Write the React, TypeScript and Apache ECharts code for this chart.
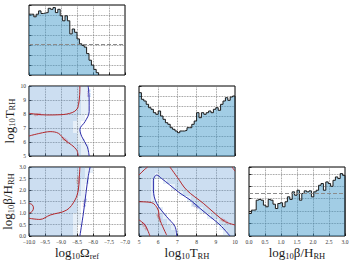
import React, { useEffect, useRef } from "react";
import * as echarts from "echarts";

const FONT = "'Liberation Serif', 'DejaVu Serif', serif";

// ranges
const OMEGA_RANGE = [-10, -7];
const TRH_RANGE = [5, 10];
const BETA_RANGE = [0, 3];

// 1D histograms (bin heights, arbitrary units)
const omegaBinWidth = 0.075;
const omegaHist = [6.08, 6.08, 5.82, 6.08, 6.41, 6.15, 6.21, 6.24, 6.67, 6.57, 6.74, 6.24, 6.57, 5.92, 5.42, 5.92, 5.42, 4.11, 4.6, 4.27, 3.61, 3.12, 2.96, 2.79, 2.14, 1.48, 0.99, 0.56, 0.23];
const omegaPrior = 3.1;

const trhBinWidth = 0.125;
const trhHist = [6.33, 5.67, 5.5, 5.17, 4.83, 4.67, 4.33, 4.17, 4.5, 4.0, 3.67, 3.33, 3.17, 2.83, 2.67, 2.5, 2.33, 2.5, 2.5, 2.57, 2.83, 2.83, 3.17, 3.5, 4.33, 3.83, 4.33, 4.17, 4.33, 4.5, 4.33, 4.67, 4.83, 4.57, 5.17, 5.5, 5.83, 5.57, 5.9, 6.0];

const betaBinWidth = 0.075;
const betaHist = [1.81, 2.08, 2.1, 2.88, 2.94, 2.88, 2.48, 2.35, 2.94, 2.88, 2.56, 2.21, 2.61, 2.67, 2.35, 2.75, 3.15, 2.94, 3.55, 3.28, 3.68, 2.88, 3.42, 3.63, 3.55, 3.63, 3.15, 3.55, 3.68, 4.08, 4.22, 3.68, 4.35, 4.22, 4.0, 4.48, 4.75, 4.62, 5.02, 4.88];
const betaPrior = 3.42;

// sample density maps (rows top -> bottom, 0 = empty, 1 = sparse, 2 = dense)
const densityTrhOmega = [
  "222222222222211000000000",
  "222222222222211000000000",
  "222222222222211000000000",
  "222222222222211000000000",
  "222222222222211000000000",
  "222222222222110000000000",
  "222222222221100000000000",
  "222222222221100000000000",
  "222222222222100000000000",
  "222222222222110000000000",
  "222222222222211000000000",
  "222222222222211000000000",
];
const densityBetaOmega = [
  "222222222222221100000000",
  "222222222222221000000000",
  "222222222222211000000000",
  "222222222222210000000000",
  "222222222222210000000000",
  "222222222222110000000000",
  "222222222222100000000000",
  "222222222222100000000000",
  "222222222221100000000000",
  "222222222221100000000000",
  "222222222221000000000000",
  "222222222221000000000000",
];
const densityBetaTrh = [
  "222222222222222222222222",
  "222212222222222222222222",
  "222100122222222222222222",
  "222100001222222222222222",
  "222100000012222222222222",
  "222100000000122222222222",
  "222210000000012222222222",
  "222221000000000122222222",
  "222222100000000001222222",
  "222222210000000000012222",
  "222222221000000000001222",
  "222222222100000000000122",
];

// contour lines
const trhOmegaRedA = [[-8.41, 10], [-8.42, 9.3], [-8.45, 8.7], [-8.5, 8.35], [-8.65, 8.1], [-9.0, 7.95], [-9.45, 7.93], [-9.75, 7.98], [-10, 8.05]];
const trhOmegaRedB = [[-10, 6.43], [-9.66, 6.62], [-9.34, 6.74], [-9.08, 6.62], [-8.88, 6.14], [-8.67, 5.79], [-8.51, 5.43], [-8.46, 5.0]];
const trhOmegaBlue = [[-8.15, 10], [-8.12, 9.0], [-8.12, 8.17], [-8.25, 7.45], [-8.41, 6.9], [-8.35, 6.38], [-8.18, 5.67], [-8.12, 5.0]];

const betaOmegaRedLoop = [[-10, 1.42], [-9.9, 1.36], [-9.86, 1.22], [-9.9, 1.07], [-10, 0.99]];
const betaOmegaRed = [[-10, 0.77], [-9.66, 0.72], [-9.34, 0.91], [-8.82, 1.13], [-8.56, 1.57], [-8.46, 2.0], [-8.43, 2.51], [-8.41, 3.0]];
const betaOmegaBlue = [[-8.41, 0], [-8.3, 0.99], [-8.22, 1.86], [-8.15, 2.58], [-8.09, 3.0]];

const betaTrhBlue = [[6.96, 0], [6.875, 0.41], [6.44, 0.84], [5.92, 1.42], [5.75, 2.0], [5.75, 2.43], [5.92, 2.65], [6.18, 2.5], [6.6, 2.22], [7.14, 1.86], [7.66, 1.57], [8.18, 1.2], [8.7, 0.84], [9.22, 0.48], [9.74, 0.0]];
const betaTrhRedDiag = [[6.61, 3.0], [7.0, 2.55], [7.48, 2.0], [8.35, 1.42], [9.05, 0.91], [9.5, 0.62], [10, 0.48]];
const betaTrhRedTopLeft = [[5.0, 2.65], [5.15, 2.78], [5.3, 2.9], [5.45, 3.0]];
const betaTrhRedLeft = [[5.0, 1.49], [5.66, 1.45], [6.0, 1.13], [6.06, 0.77], [6.44, 0.04]];
const betaTrhRedCorner = [[5.0, 0.7], [5.31, 0.48], [5.57, 0.0]];
const betaTrhRedTopRight = [[9.85, 3.0], [9.93, 2.9], [10, 2.82]];

// contour labels: [x, y, text, rotation, kind]
const trhOmegaLabels = [[-9.72, 7.98, "68%", 5, "r"], [-8.86, 6.14, "68%", -42, "r"], [-8.13, 9.5, "95%", 88, "b"]];
const betaOmegaLabels = [[-8.46, 2.45, "68%", 82, "r"], [-8.26, 1.45, "95%", 80, "b"]];
const betaTrhLabels = [[7.95, 1.3, "95%", -38, "b"], [9.45, 0.66, "68%", -33, "r"], [6.05, 0.8, "68%", -68, "r"], [5.3, 0.42, "68%", -55, "r"]];

const RED = "#b3262a";
const BLUE = "#2a2aa8";
const CELL_COLORS = ["rgba(0,0,0,0)", "rgba(90,150,210,0.15)", "rgba(90,150,210,0.31)"];

const minus = (s: string) => s.replace("-", "\u2212");

function histData(vals: number[], x0: number, w: number) {
  const d = vals.map((v, k) => [x0 + k * w, v]);
  d.push([x0 + vals.length * w, vals[vals.length - 1]]);
  d.push([x0 + vals.length * w, 0]);
  return d;
}

function histSeries(idx: number, vals: number[], x0: number, w: number, prior?: number) {
  const s: any = {
    type: "line",
    xAxisIndex: idx,
    yAxisIndex: idx,
    step: "end",
    data: histData(vals, x0, w),
    showSymbol: false,
    silent: true,
    lineStyle: { color: "#1a1a1a", width: 1 },
    areaStyle: { color: "rgb(60,150,200)", opacity: 0.48 },
  };
  if (prior !== undefined) {
    s.markLine = {
      silent: true,
      symbol: "none",
      label: { show: false },
      lineStyle: { type: "dashed", color: "#8c8c8c", width: 1 },
      data: [{ yAxis: prior }],
    };
  }
  return s;
}

function cellSeries(idx: number, rows: string[], xr: number[], yr: number[]) {
  const nc = rows[0].length;
  const nr = rows.length;
  const dx = (xr[1] - xr[0]) / nc;
  const dy = (yr[1] - yr[0]) / nr;
  const data: number[][] = [];
  rows.forEach((row, j) =>
    row.split("").forEach((ch, i) => {
      const l = Number(ch);
      if (l > 0) data.push([xr[0] + (i + 0.5) * dx, yr[1] - (j + 0.5) * dy, l]);
    })
  );
  return {
    type: "custom",
    xAxisIndex: idx,
    yAxisIndex: idx,
    silent: true,
    data,
    renderItem: (_p: any, api: any) => {
      const x = api.value(0);
      const y = api.value(1);
      const l = api.value(2);
      const a = api.coord([x - dx / 2, y + dy / 2]);
      const b = api.coord([x + dx / 2, y - dy / 2]);
      const ax = Math.round(a[0]);
      const ay = Math.round(a[1]);
      return {
        type: "rect",
        shape: { x: ax, y: ay, width: Math.round(b[0]) - ax, height: Math.round(b[1]) - ay },
        style: { fill: CELL_COLORS[l] },
      };
    },
  };
}

function lineSeries(idx: number, pts: number[][], color: string) {
  return {
    type: "line",
    xAxisIndex: idx,
    yAxisIndex: idx,
    data: pts,
    smooth: 0.35,
    showSymbol: false,
    silent: true,
    lineStyle: { color, width: 1 },
  };
}

function labelSeries(idx: number, labels: any[]) {
  return {
    type: "scatter",
    xAxisIndex: idx,
    yAxisIndex: idx,
    silent: true,
    symbolSize: 1,
    itemStyle: { color: "rgba(0,0,0,0)" },
    data: labels.map((l) => ({
      value: [l[0], l[1]],
      label: {
        show: true,
        position: "inside",
        formatter: l[2],
        rotate: l[3],
        color: l[4] === "r" ? RED : BLUE,
        fontSize: 4.5,
        fontFamily: FONT,
      },
    })),
  };
}

const rich = {
  m: { fontFamily: FONT, fontSize: 13, color: "#1a1a1a", lineHeight: 15 },
  s: { fontFamily: FONT, fontSize: 8.5, color: "#1a1a1a", lineHeight: 6, verticalAlign: "bottom" },
};

function axis(grid: number, range: number[], interval: number, showLabels: boolean, fmt: (v: number) => string, extra: any = {}) {
  return {
    type: "value",
    gridIndex: grid,
    min: range[0],
    max: range[1],
    interval,
    axisLine: { show: false },
    axisTick: { show: true, inside: true, length: 2.5, lineStyle: { color: "#000", width: 0.8 } },
    axisLabel: {
      show: showLabels,
      fontSize: 5.5,
      fontFamily: FONT,
      color: "#333",
      margin: 3,
      formatter: fmt,
      showMinLabel: true,
      showMaxLabel: true,
      hideOverlap: false,
      interval: 0,
    },
    splitLine: { show: true, lineStyle: { type: "dotted", color: "#7a7a7a", width: 0.8 } },
    nameLocation: "middle",
    nameTextStyle: { rich },
    ...extra,
  };
}

const f1 = (v: number) => minus(v.toFixed(1));
const f0 = (v: number) => String(Math.round(v));

function buildOption() {
  const L = [29, 139, 249];
  const T = [5, 86, 167];
  const W = 96;
  const H = 70;
  const gridPos = [
    [0, 0],
    [1, 0],
    [1, 1],
    [2, 0],
    [2, 1],
    [2, 2],
  ];
  const grid = gridPos.map(([r, c]) => ({
    left: L[c],
    top: T[r],
    width: W,
    height: r === 2 ? 69 : H,
    show: true,
    borderColor: "#000",
    borderWidth: 1,
    containLabel: false,
  }));

  const omegaName = "{m|log}{s|10}{m|\u03a9}{s|ref}";
  const trhName = "{m|log}{s|10}{m|T}{s|RH}";
  const betaName = "{m|log}{s|10}{m|\u03b2/H}{s|RH}";

  const xAxis = [
    axis(0, OMEGA_RANGE, 0.5, false, f1),
    axis(1, OMEGA_RANGE, 0.5, false, f1),
    axis(2, TRH_RANGE, 1, false, f0),
    axis(3, OMEGA_RANGE, 0.5, true, f1, { name: omegaName, nameGap: 9 }),
    axis(4, TRH_RANGE, 1, true, f0, { name: trhName, nameGap: 9 }),
    axis(5, BETA_RANGE, 0.5, true, f1, { name: betaName, nameGap: 9 }),
  ];
  const yAxis = [
    axis(0, [0, 7], 1, false, f0),
    axis(1, TRH_RANGE, 1, true, f0, { name: trhName, nameGap: 12, nameRotate: 90 }),
    axis(2, [0, 7], 1, false, f0),
    axis(3, BETA_RANGE, 0.5, true, f1, { name: betaName, nameGap: 12, nameRotate: 90 }),
    axis(4, BETA_RANGE, 0.5, false, f1),
    axis(5, [0, 5.55], 1, false, f0),
  ];

  const series: any[] = [
    histSeries(0, omegaHist, OMEGA_RANGE[0], omegaBinWidth, omegaPrior),
    histSeries(2, trhHist, TRH_RANGE[0], trhBinWidth),
    histSeries(5, betaHist, BETA_RANGE[0], betaBinWidth, betaPrior),

    cellSeries(1, densityTrhOmega, OMEGA_RANGE, TRH_RANGE),
    lineSeries(1, trhOmegaRedA, RED),
    lineSeries(1, trhOmegaRedB, RED),
    lineSeries(1, trhOmegaBlue, BLUE),
    labelSeries(1, trhOmegaLabels),

    cellSeries(3, densityBetaOmega, OMEGA_RANGE, BETA_RANGE),
    lineSeries(3, betaOmegaRedLoop, RED),
    lineSeries(3, betaOmegaRed, RED),
    lineSeries(3, betaOmegaBlue, BLUE),
    labelSeries(3, betaOmegaLabels),

    cellSeries(4, densityBetaTrh, TRH_RANGE, BETA_RANGE),
    lineSeries(4, betaTrhBlue, BLUE),
    lineSeries(4, betaTrhRedDiag, RED),
    lineSeries(4, betaTrhRedTopLeft, RED),
    lineSeries(4, betaTrhRedLeft, RED),
    lineSeries(4, betaTrhRedCorner, RED),
    lineSeries(4, betaTrhRedTopRight, RED),
    labelSeries(4, betaTrhLabels),
  ];

  return {
    animation: false,
    backgroundColor: "#fff",
    grid,
    xAxis,
    yAxis,
    series,
  };
}

export default function App() {
  const ref = useRef<HTMLDivElement>(null);
  useEffect(() => {
    document.body.style.margin = "0";
    const chart = echarts.init(ref.current!, null, { renderer: "svg" });
    chart.setOption(buildOption());
    return () => chart.dispose();
  }, []);
  return <div ref={ref} style={{ width: 353, height: 263 }} />;
}
